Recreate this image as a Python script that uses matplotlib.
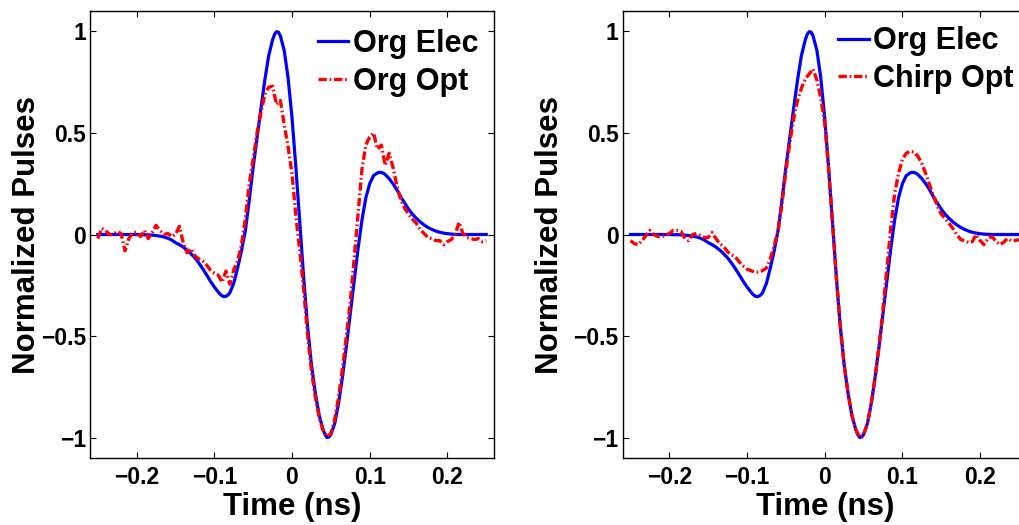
import matplotlib
matplotlib.use('Agg')
import matplotlib.pyplot as plt

plt.rcParams['font.family'] = ['Liberation Sans', 'DejaVu Sans']
plt.rcParams['font.weight'] = 'bold'
plt.rcParams['lines.scale_dashes'] = False

# sample times (ns) of the optical pulses
time_ns = [
    -0.250, -0.245, -0.240, -0.235, -0.230, -0.225, -0.220, -0.215, -0.210, -0.205, -0.200,
    -0.195, -0.190, -0.185, -0.180, -0.175, -0.170, -0.165, -0.160, -0.155, -0.150, -0.145,
    -0.140, -0.135, -0.130, -0.125, -0.120, -0.115, -0.110, -0.105, -0.100, -0.095, -0.090,
    -0.085, -0.080, -0.075, -0.070, -0.065, -0.060, -0.055, -0.050, -0.045, -0.040, -0.035,
    -0.030, -0.025, -0.020, -0.015, -0.010, -0.005, 0.000, 0.005, 0.010, 0.015, 0.020,
    0.025, 0.030, 0.035, 0.040, 0.045, 0.050, 0.055, 0.060, 0.065, 0.070, 0.075,
    0.080, 0.085, 0.090, 0.095, 0.100, 0.105, 0.110, 0.115, 0.120, 0.125, 0.130,
    0.135, 0.140, 0.145, 0.150, 0.155, 0.160, 0.165, 0.170, 0.175, 0.180, 0.185,
    0.190, 0.195, 0.200, 0.205, 0.210, 0.215, 0.220, 0.225, 0.230, 0.235, 0.240,
    0.245, 0.250,
]

# electrical pulse, sampled a bit finer around the extrema
elec_time = [
    -0.250, -0.240, -0.230, -0.220, -0.210, -0.200,
    -0.195, -0.190, -0.185, -0.180, -0.175, -0.170, -0.165, -0.160, -0.155, -0.150, -0.145,
    -0.140, -0.135, -0.130, -0.125, -0.120, -0.115, -0.110, -0.105, -0.100, -0.095,
    -0.0925, -0.090, -0.0875, -0.085, -0.0825, -0.080, -0.075, -0.070, -0.065, -0.060,
    -0.055, -0.050, -0.045, -0.040, -0.035, -0.030, -0.025, -0.0225, -0.020, -0.0175,
    -0.015, -0.010, -0.005, 0.000, 0.005, 0.010, 0.015, 0.020, 0.025, 0.030, 0.035, 0.040,
    0.0425, 0.045, 0.0475, 0.050, 0.055, 0.060, 0.065, 0.070, 0.075, 0.080, 0.085, 0.090,
    0.095, 0.100, 0.105, 0.110, 0.1125, 0.115, 0.1175, 0.120, 0.125, 0.130,
    0.135, 0.140, 0.145, 0.150, 0.155, 0.160, 0.165, 0.170, 0.175, 0.180, 0.185,
    0.190, 0.195, 0.200, 0.205, 0.210, 0.215, 0.220, 0.230, 0.240, 0.250,
]

org_elec = [
    0, 0, 0, 0, 0, 0,
    -0.001, -0.001, -0.002, -0.003, -0.005, -0.008, -0.012, -0.018, -0.027, -0.040, -0.050,
    -0.062, -0.077, -0.095, -0.115, -0.140, -0.168, -0.198, -0.230, -0.258, -0.283,
    -0.294, -0.302, -0.306, -0.304, -0.298, -0.287, -0.240, -0.165, -0.080, 0.020,
    0.170, 0.330, 0.475, 0.620, 0.760, 0.880, 0.958, 0.985, 0.998, 0.996,
    0.978, 0.905, 0.770, 0.575, 0.330, 0.060, -0.210, -0.450, -0.640, -0.780, -0.890, -0.960,
    -0.985, -0.999, -0.997, -0.985, -0.930, -0.830, -0.700, -0.550, -0.390, -0.230, -0.070, 0.070,
    0.180, 0.250, 0.290, 0.303, 0.306, 0.305, 0.302, 0.295, 0.275, 0.250,
    0.220, 0.185, 0.155, 0.125, 0.100, 0.080, 0.062, 0.047, 0.035, 0.025, 0.017,
    0.011, 0.007, 0.004, 0.002, 0.001, 0, 0, 0, 0, 0,
]

org_opt = [
    -0.020, 0.030, 0.020, 0.000, 0.000, 0.015, 0.005, -0.080, -0.020, 0.010, 0.010,
    -0.010, 0.020, -0.020, 0.010, 0.045, 0.020, 0.000, 0.005, -0.010, 0.000, 0.040,
    -0.040, -0.090, -0.070, -0.105, -0.120, -0.130, -0.150, -0.175, -0.190, -0.200, -0.235,
    -0.180, -0.245, -0.175, -0.130, -0.050, 0.080, 0.250, 0.370, 0.500, 0.600, 0.690,
    0.725, 0.730, 0.640, 0.660, 0.540, 0.430, 0.300, 0.090, -0.080, -0.270, -0.490,
    -0.670, -0.800, -0.900, -0.965, -0.995, -0.980, -0.910, -0.800, -0.660, -0.500, -0.330,
    -0.120, 0.100, 0.320, 0.440, 0.480, 0.500, 0.420, 0.440, 0.340, 0.400, 0.330,
    0.240, 0.170, 0.130, 0.100, 0.075, 0.055, 0.025, 0.005, -0.015, -0.020, -0.030,
    -0.030, -0.050, -0.035, -0.025, 0.000, 0.060, 0.005, -0.015, -0.020, -0.025, -0.020,
    -0.035, -0.030,
]

chirp_opt = [
    -0.030, -0.045, -0.050, -0.030, -0.005, 0.020, 0.000, -0.010, -0.010, -0.005, 0.005,
    0.020, 0.020, 0.015, -0.020, -0.030, 0.000, 0.005, -0.005, -0.015, -0.015, 0.010,
    -0.020, -0.045, -0.060, -0.085, -0.100, -0.110, -0.135, -0.155, -0.170, -0.178, -0.186,
    -0.185, -0.178, -0.165, -0.120, -0.055, 0.020, 0.150, 0.310, 0.450, 0.570, 0.660,
    0.720, 0.765, 0.790, 0.815, 0.760, 0.670, 0.550, 0.320, 0.060, -0.210, -0.450,
    -0.640, -0.780, -0.890, -0.960, -0.998, -0.985, -0.930, -0.830, -0.700, -0.550, -0.370,
    -0.170, 0.030, 0.200, 0.300, 0.370, 0.400, 0.410, 0.405, 0.385, 0.350, 0.300,
    0.245, 0.190, 0.140, 0.100, 0.080, 0.055, 0.030, 0.000, -0.025, -0.030, -0.040,
    -0.035, 0.000, -0.030, -0.050, -0.020, -0.010, -0.030, -0.050, -0.040, -0.020, -0.030,
    -0.030, -0.025,
]

x_ticks = [-0.2, -0.1, 0, 0.1, 0.2]
x_tick_labels = ['\u22120.2', '\u22120.1', '0', '0.1', '0.2']
y_ticks = [-1, -0.5, 0, 0.5, 1]
y_tick_labels = ['\u22121', '\u22120.5', '0', '0.5', '1']

W, H = 1019, 525
fig = plt.figure(figsize=(W / 100, H / 100), dpi=100)


def pulse_panel(left_px, opt_values, opt_label, legend_x, legend_y):
    ax = fig.add_axes([left_px / W, 67 / H, 404 / W, 447 / H])
    ax.plot(elec_time, org_elec, color=(0, 0, 1), lw=2.3, label='Org Elec',
            solid_joinstyle='round')
    ax.plot(time_ns, opt_values, color=(1, 0, 0), lw=2.4,
            dashes=(6, 2, 1.2, 2), label=opt_label)
    ax.set_xlim(-0.26, 0.26)
    ax.set_ylim(-1.1, 1.1)
    ax.set_xticks(x_ticks)
    ax.set_xticklabels(x_tick_labels)
    ax.set_yticks(y_ticks)
    ax.set_yticklabels(y_tick_labels)
    ax.tick_params(direction='in', length=4.5, width=0.8, labelsize=16.5,
                   top=True, right=True)
    ax.tick_params(axis='x', pad=6)
    ax.tick_params(axis='y', pad=3)
    for s in ax.spines.values():
        s.set_linewidth(1.0)

    ax.set_xlabel('Time (ns)', fontsize=22.5, fontweight='bold', va='baseline')
    ax.xaxis.set_label_coords(0.5, -0.1275)
    ax.set_ylabel('Normalized Pulses', fontsize=22.5, fontweight='bold')
    ax.yaxis.label.set_va('baseline')

    ax.legend(loc='upper left', bbox_to_anchor=(legend_x, legend_y), frameon=False,
              fontsize=22, handlelength=1.0, handletextpad=0.15,
              labelspacing=0.26, borderpad=0, borderaxespad=0)
    return ax


ax1 = pulse_panel(90, org_opt, 'Org Opt', 0.564, 0.960)
ax1.yaxis.set_label_coords((35 - 90) / 404, 0.5)

ax2 = pulse_panel(622.7, chirp_opt, 'Chirp Opt', 0.533, 0.966)
ax2.yaxis.set_label_coords((558 - 622.7) / 404, 0.5)

fig.savefig('out.png', dpi=100)
